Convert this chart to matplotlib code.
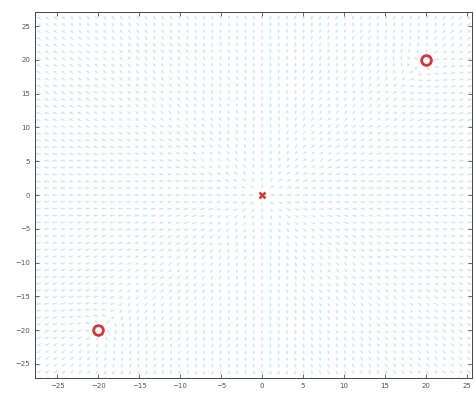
import numpy as np
import matplotlib
matplotlib.use("Agg")
import matplotlib.pyplot as plt

# grid for the vector field
grid_x = np.arange(-27, 26, 1.0)
grid_y = np.arange(-27, 28, 1.0)

start = (0, 0)
obstacles_x = [20, -20]
obstacles_y = [20, -20]

ticks = [-25, -20, -15, -10, -5, 0, 5, 10, 15, 20, 25]


def field(X, Y):
    # outward from the start point, pushed away from the obstacles
    U = X - start[0]
    V = Y - start[1]
    r = np.hypot(U, V) + 1e-9
    U, V = U / r, V / r
    for ox, oy in zip(obstacles_x, obstacles_y):
        dx, dy = X - ox, Y - oy
        d = np.hypot(dx, dy) + 1e-9
        w = np.exp(-d / 3.0) * 2
        U = U + w * dx / d
        V = V + w * dy / d
    n = np.hypot(U, V) + 1e-9
    return U / n, V / n


def main():
    fig = plt.figure(figsize=(4.75, 3.96), dpi=100)
    ax = fig.add_axes([35 / 475, 18 / 396, 437 / 475, 366 / 396])

    X, Y = np.meshgrid(grid_x, grid_y)
    U, V = field(X, Y)
    ax.quiver(X, Y, U, V, color="#b4e0ec", angles="xy", scale_units="xy",
              scale=1.6, width=0.0022, headwidth=3, headlength=3,
              headaxislength=2.5, alpha=0.75)

    ax.plot(obstacles_x, obstacles_y, "o", mfc="none", mec="#d9343a",
            ms=7, mew=2)
    ax.plot(start[0], start[1], "x", color="#d9343a", ms=5, mew=1.8)

    ax.set_xlim(-27.7, 25.6)
    ax.set_ylim(-27.1, 27.1)
    ax.set_xticks(ticks)
    ax.set_yticks(ticks)
    ax.tick_params(direction="in", top=True, right=True, labelsize=5,
                   colors="#555555", length=3, width=0.6)
    for s in ax.spines.values():
        s.set_color("#444444")
        s.set_linewidth(0.7)

    fig.savefig("out.png", dpi=100)


if __name__ == "__main__":
    main()
